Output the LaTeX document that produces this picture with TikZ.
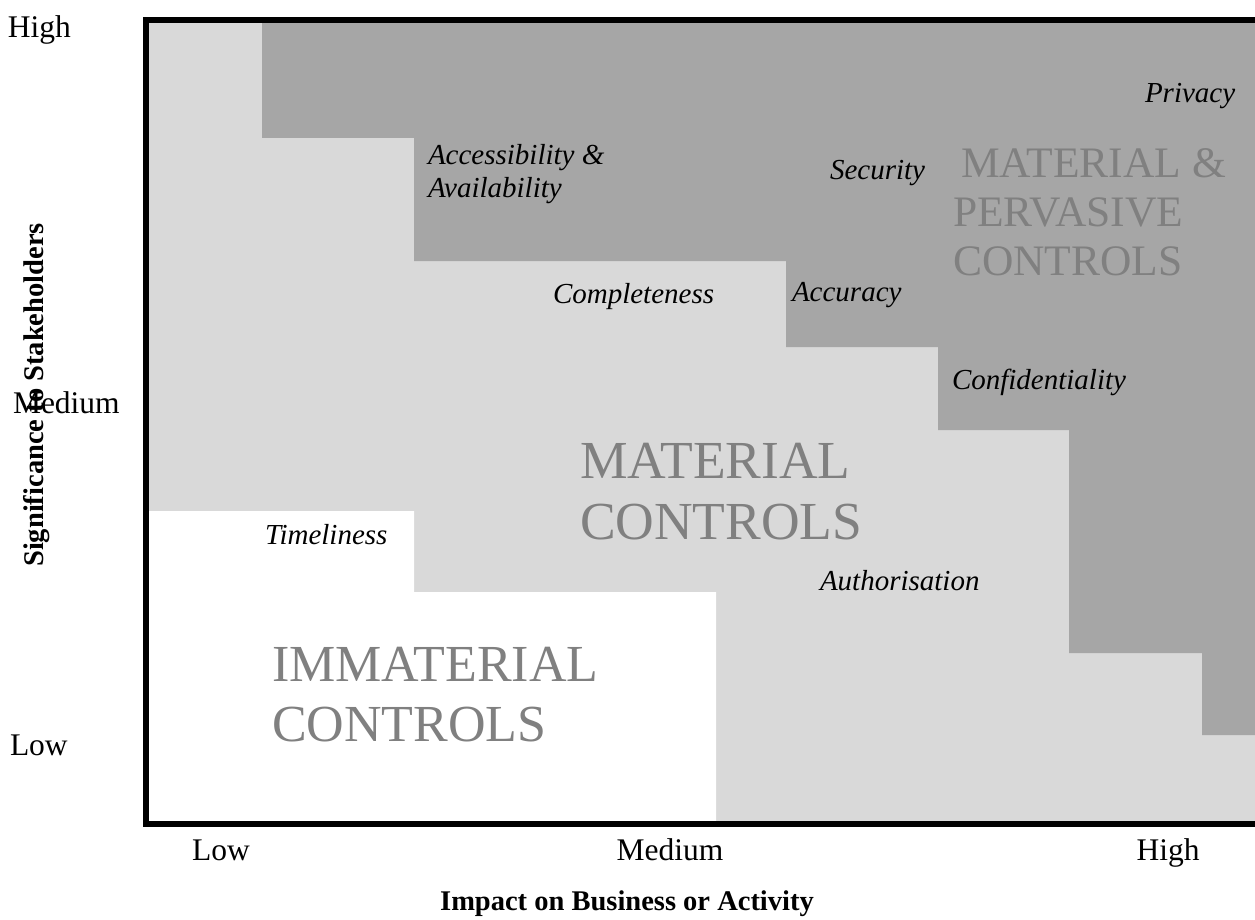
\documentclass[tikz,border=0pt]{standalone}
\usepackage{fontspec}
\setmainfont{Liberation Serif}
\usepackage{tikz}
\usetikzlibrary{
  positioning,  % Function "of" (e.g. [right=of x])
  calc,         % Calculations $...$
}
\definecolor{lightzone}{HTML}{D9D9D9}
\definecolor{darkzone}{HTML}{A6A6A6}
\definecolor{zonetext}{HTML}{808080}
\def\myframe{6pt}
\tikzset{
  x=1pt,
  y=-1pt,
  every node/.style={
    inner sep=0pt,
    outer sep=0pt
  },
  my frame/.style={
    line width=\myframe,
    line join=miter
  },
  % multi-line nodes: anchor base is the last line
  my risk/.style={
    anchor=base west,
    font=\fontsize{29}{33}\selectfont\itshape,
    align=left
  },
  my zone/.style={
    anchor=base west,
    text=zonetext,
    font=\fontsize{53.5}{61}\selectfont,
    align=left
  },
  my zone small/.style={
    my zone,
    font=\fontsize{43.5}{49}\selectfont
  },
  my tick/.style={
    anchor=base,
    font=\fontsize{31.5}{36}\selectfont
  },
  my tick left/.style={
    my tick,
    anchor=base west
  },
  my title/.style={
    anchor=base,
    font=\fontsize{28.5}{34}\selectfont\bfseries
  }
}
\begin{document}
\begin{tikzpicture}
\useasboundingbox (0,0) rectangle (1255,920);
% zones
\fill[lightzone] (149,23) rectangle (1255,821);
\fill[white] (149,511) -- (414,511) -- (414,592) -- (716,592)
  -- (716,821) -- (149,821) -- cycle;
\fill[darkzone] (262,23) -- (262,138) -- (414,138) -- (414,261)
  -- (786,261) -- (786,347) -- (938,347) -- (938,430) -- (1069,430)
  -- (1069,653) -- (1202,653) -- (1202,735) -- (1255,735) -- (1255,23) -- cycle;
% axes frame
\draw[my frame] (1255,20) -- (146,20) -- (146,824) -- (1255,824);
% zone names
\node[my zone] (material) at (580,539) {MATERIAL\\CONTROLS};
\node[my zone,font=\fontsize{52}{60}\selectfont] (immaterial) at (272,741) {IMMATERIAL\\CONTROLS};
\node[my zone small] (pervasive) at (953,275) {\hspace{0.19em}MATERIAL \&\\PERVASIVE\\CONTROLS};
% criteria
\node[my risk] (privacy) at (1145,103) {Privacy};
\node[my risk] (access) at (428,198) {Accessibility \&\\Availability};
\node[my risk] (security) at (830,180) {Security};
\node[my risk] (complete) at (553,303) {Completeness};
\node[my risk] (accuracy) at (792,301) {Accuracy};
\node[my risk] (confid) at (952,389) {Confidentiality};
\node[my risk] (timely) at (265,544) {Timeliness};
\node[my risk] (author) at (820,590) {Authorisation};
% vertical scale
\node[my tick left] (yhigh) at (8,38) {High};
\node[my tick left] (ymed) at (13,413) {Medium};
\node[my tick left] (ylow) at (10,755) {Low};
\node[my title,rotate=90] (ytitle) at (43,395) {Significance to Stakeholders};
% horizontal scale
\node[my tick] (xlow) at (221,860) {Low};
\node[my tick] (xmed) at (670,860) {Medium};
\node[my tick] (xhigh) at (1168,860) {High};
\node[my title] (xtitle) at (627,910) {Impact on Business or Activity};
\end{tikzpicture}
\end{document}
